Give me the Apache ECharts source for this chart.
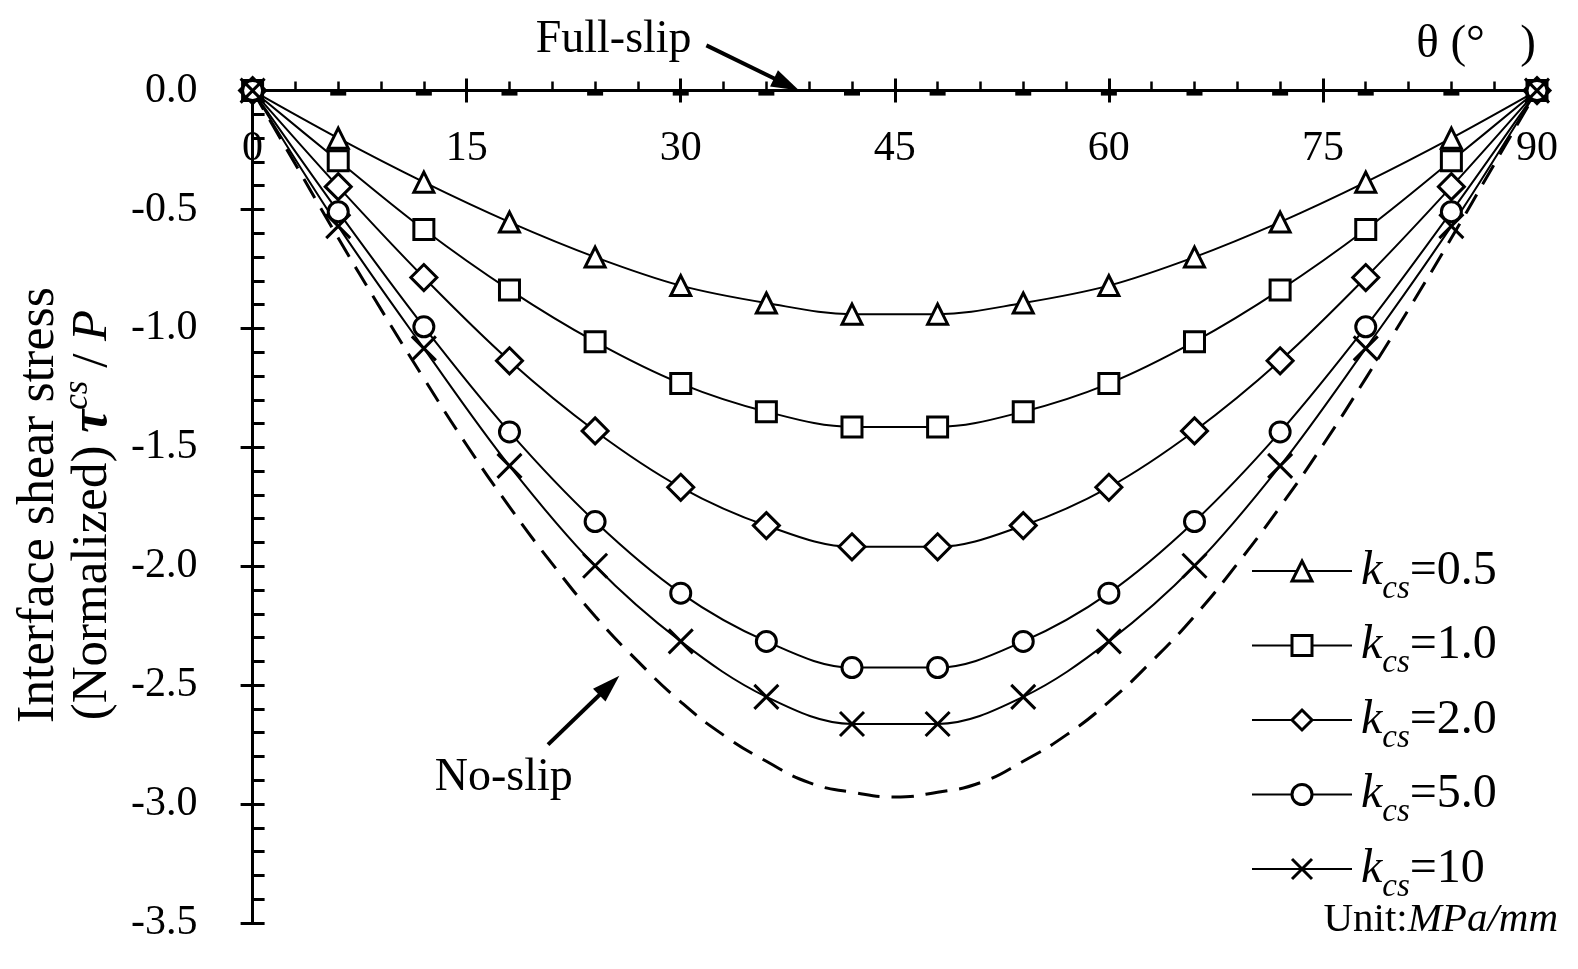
<!DOCTYPE html>
<html>
<head>
<meta charset="utf-8">
<script src="https://cdn.jsdelivr.net/npm/echarts@6/dist/echarts.min.js"></script>
<style>
html,body{margin:0;padding:0;background:#fff;}
#c{width:1578px;height:969px;}
</style>
</head>
<body>
<div id="c"></div>
<script>
// ---- data ----
const thetas = [0, 6, 12, 18, 24, 30, 36, 42, 48, 54, 60, 66, 72, 78, 84, 90];
const k05 = [0, -0.20, -0.385, -0.553, -0.70, -0.82, -0.893, -0.94, -0.94, -0.893, -0.82, -0.70, -0.553, -0.385, -0.20, 0];
const k10 = [0, -0.295, -0.584, -0.838, -1.056, -1.232, -1.35, -1.414, -1.414, -1.35, -1.232, -1.056, -0.838, -0.584, -0.295, 0];
const k20 = [0, -0.404, -0.786, -1.136, -1.431, -1.668, -1.829, -1.918, -1.918, -1.829, -1.668, -1.431, -1.136, -0.786, -0.404, 0];
const k50 = [0, -0.509, -0.993, -1.435, -1.812, -2.113, -2.316, -2.426, -2.426, -2.316, -2.113, -1.812, -1.435, -0.993, -0.509, 0];
const k100 = [0, -0.57, -1.084, -1.578, -1.998, -2.316, -2.549, -2.663, -2.663, -2.549, -2.316, -1.998, -1.578, -1.084, -0.57, 0];
const fullSlip = [0, 0, 0, 0, 0, 0, 0, 0, 0, 0, 0, 0, 0, 0, 0, 0];
const noSlipTheta = [0, 3, 6, 9, 12, 15, 18, 21, 24, 27, 30, 33, 36, 39, 42, 45, 48, 51, 54, 57, 60, 63, 66, 69, 72, 75, 78, 81, 84, 87, 90];
const noSlip = [0, -0.31, -0.62, -0.92, -1.21, -1.49, -1.75, -1.99, -2.21, -2.40, -2.57, -2.71, -2.82, -2.91, -2.95, -2.97,
  -2.95, -2.91, -2.82, -2.71, -2.57, -2.40, -2.21, -1.99, -1.75, -1.49, -1.21, -0.92, -0.62, -0.31, 0];
const seriesNames = ['0.5', '1.0', '2.0', '5.0', '10'];
const xTicks = {min: 0, max: 90, interval: 15};
const yTicks = {min: -3.5, max: 0, interval: 0.5};

const FONT = '"Liberation Serif","Times New Roman",serif';
const pair = (xs, ys) => xs.map((x, i) => [x, ys[i]]);
const crossPath = 'path://M0,0L10,10M10,0L0,10';

const chart = echarts.init(document.getElementById('c'));

function kSeries(name, vals, symbol, size) {
  return {
    name: name, type: 'line', data: pair(thetas, vals), smooth: 0.35,
    symbol: symbol, symbolSize: size, showAllSymbol: true,
    lineStyle: {color: '#000', width: 2},
    itemStyle: {color: '#fff', borderColor: '#000', borderWidth: 3},
    emphasis: {disabled: true}, z: 3
  };
}

const option = {
  animation: false,
  backgroundColor: '#fff',
  grid: {left: 252.6, right: 41, top: 90.6, bottom: 46},
  xAxis: [{
    type: 'value', position: 'top', min: xTicks.min, max: xTicks.max, interval: xTicks.interval,
    axisLine: {onZero: false, lineStyle: {color: '#000', width: 3}},
    axisTick: {show: true, inside: false, length: 12, lineStyle: {color: '#000', width: 3}},
    minorTick: {show: true, splitNumber: 5, length: 9, lineStyle: {color: '#000', width: 2.5}},
    axisLabel: {inside: true, margin: 37, color: '#000', fontSize: 42, fontFamily: FONT, showMinLabel: true, showMaxLabel: true},
    splitLine: {show: false}
  }, {
    type: 'value', position: 'top', min: xTicks.min, max: xTicks.max, interval: xTicks.interval,
    axisLine: {show: false, onZero: false},
    axisTick: {show: true, inside: true, length: 12, lineStyle: {color: '#000', width: 3}},
    axisLabel: {show: false}, splitLine: {show: false}
  }],
  yAxis: [{
    type: 'value', position: 'left', min: yTicks.min, max: yTicks.max, interval: yTicks.interval,
    axisLine: {onZero: false, lineStyle: {color: '#000', width: 3}},
    axisTick: {show: true, inside: false, length: 12, lineStyle: {color: '#000', width: 3}},
    axisLabel: {margin: 55, color: '#000', fontSize: 42, fontFamily: FONT, formatter: v => v.toFixed(1)},
    splitLine: {show: false}
  }, {
    type: 'value', position: 'left', min: yTicks.min, max: yTicks.max, interval: yTicks.interval,
    axisLine: {show: false, onZero: false},
    axisTick: {show: true, inside: true, length: 12, lineStyle: {color: '#000', width: 3}},
    minorTick: {show: true, splitNumber: 5, length: 12, lineStyle: {color: '#000', width: 3}},
    axisLabel: {show: false}, splitLine: {show: false}
  }],
  legend: {
    orient: 'vertical', left: 1246, top: 542, itemWidth: 100, itemHeight: 25, itemGap: 16,
    data: seriesNames.map(n => 'k' + n),
    formatter: name => '{k|k}{s|cs}{n|=' + name.slice(1) + '}',
    itemStyle: {color: '#fff', borderColor: '#000', borderWidth: 3},
    lineStyle: {color: '#000', width: 2},
    textStyle: {
      color: '#000', fontFamily: FONT, padding: [0, 0, 0, 4],
      rich: {
        k: {fontSize: 48, fontStyle: 'italic', fontFamily: FONT, color: '#000'},
        s: {fontSize: 33, fontStyle: 'italic', fontFamily: FONT, color: '#000', padding: [36, 0, 0, 0]},
        n: {fontSize: 48, fontFamily: FONT, color: '#000'}
      }
    }
  },
  series: [
    {
      name: 'No-slip', type: 'line', data: pair(noSlipTheta, noSlip), smooth: true, symbol: 'none',
      lineStyle: {color: '#000', width: 3, type: [22, 12]}, z: 2, emphasis: {disabled: true}
    },
    {
      name: 'Full-slip', type: 'line', data: pair(thetas, fullSlip), symbol: 'rect', symbolSize: [16, 6],
      symbolOffset: [0, 2], showAllSymbol: true,
      lineStyle: {color: '#000', width: 3}, itemStyle: {color: '#000'}, z: 2, emphasis: {disabled: true}
    },
    kSeries('k0.5', k05, 'triangle', 20),
    kSeries('k1.0', k10, 'rect', 20),
    kSeries('k2.0', k20, 'diamond', 26),
    kSeries('k5.0', k50, 'circle', 20),
    kSeries('k10', k100, crossPath, 24)
  ]
};
chart.setOption(option);

// ---- annotations ----
const px = (x, y) => chart.convertToPixel({gridIndex: 0}, [x, y]);
function arrow(a, b) {
  const p0 = px(a[0], a[1]), p1 = px(b[0], b[1]);
  const dx = p1[0] - p0[0], dy = p1[1] - p0[1], L = Math.hypot(dx, dy);
  const ux = dx / L, uy = dy / L, nx = -uy, ny = ux, head = 28, half = 9;
  const bx = p1[0] - ux * head, by = p1[1] - uy * head;
  return [
    {type: 'line', shape: {x1: p0[0], y1: p0[1], x2: bx + ux * 2, y2: by + uy * 2}, style: {stroke: '#000', lineWidth: 4}, z: 10},
    {type: 'polygon', shape: {points: [[p1[0], p1[1]], [bx + nx * half, by + ny * half], [bx - nx * half, by - ny * half]]}, style: {fill: '#000'}, z: 10}
  ];
}
function txt(x, y, text, extra) {
  return {
    type: 'text', x: x, y: y, z: 10,
    style: Object.assign({text: text, fontFamily: FONT, fontSize: 46, fill: '#000',
      align: 'center', verticalAlign: 'middle', textAlign: 'center', textVerticalAlign: 'middle'}, extra || {})
  };
}
const fsPos = px(25.3, 0.213);
const nsPos = px(17.6, -2.89);
const graphics = []
  .concat(arrow([31.8, 0.19], [38.3, 0.0]))
  .concat(arrow([20.7, -2.75], [25.7, -2.46]))
  .concat([
    txt(fsPos[0], fsPos[1], 'Full-slip'),
    txt(nsPos[0], nsPos[1], 'No-slip'),
    txt(1476, 45, 'θ (°   )', {fontSize: 47}),
    txt(1558, 920, '{a|Unit:}{b|MPa/mm}', {
      align: 'right', textAlign: 'right',
      rich: {a: {fontSize: 41, fontFamily: FONT, fill: '#000'}, b: {fontSize: 41, fontFamily: FONT, fontStyle: 'italic', fill: '#000'}}
    }),
    Object.assign(txt(39, 505, 'Interface shear stress', {fontSize: 52}), {rotation: Math.PI / 2}),
    Object.assign(txt(93, 515, '{a|(Normalized) }{t|τ}{s|cs}{a| / }{p|P}', {
      rich: {
        a: {fontSize: 51, fontFamily: FONT, fill: '#000'},
        t: {fontSize: 52, fontFamily: FONT, fontStyle: 'italic', fontWeight: 'bold', fill: '#000'},
        s: {fontSize: 35, fontFamily: FONT, fontStyle: 'italic', fill: '#000', padding: [0, 0, 30, 0]},
        p: {fontSize: 51, fontFamily: FONT, fontStyle: 'italic', fill: '#000'}
      }
    }), {rotation: Math.PI / 2})
  ]);
chart.setOption({graphic: graphics});
</script>
</body>
</html>
